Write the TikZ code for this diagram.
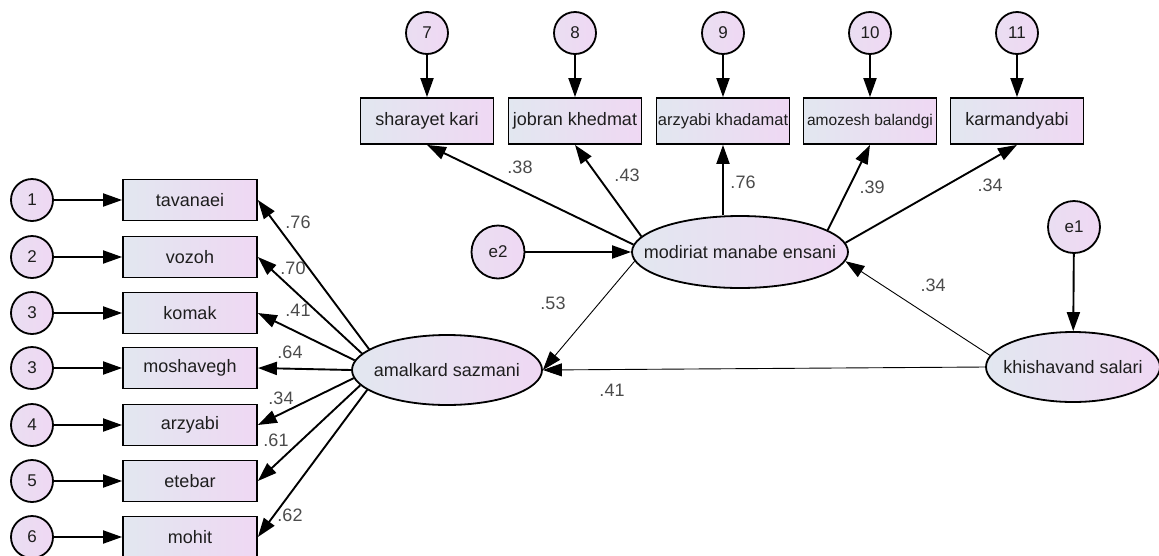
\documentclass[tikz,border=0pt]{standalone}
\usepackage{fontspec}
\setmainfont{Liberation Sans}
\usetikzlibrary{arrows.meta,shapes.geometric}

\definecolor{shadeblue}{RGB}{226,231,240}
\definecolor{shadepink}{RGB}{239,216,243}
\definecolor{inkgray}{RGB}{30,30,30}

\tikzset{
    obsbox/.style={draw,line width=1.8pt,rectangle,left color=shadeblue,right color=shadepink,
        minimum width=134pt,minimum height=41pt,inner sep=0pt,text=inkgray,font=\fontsize{18}{20}\selectfont},
    topbox/.style={obsbox,minimum width=133pt,minimum height=46pt},
    errc/.style={draw,line width=1.8pt,circle,left color=shadeblue!40!shadepink,right color=shadepink,
        minimum size=42pt,inner sep=0pt,text=inkgray,font=\fontsize{17}{20}\selectfont},
    latent/.style={draw,line width=1.8pt,ellipse,left color=shadeblue,right color=shadepink,
        inner sep=0pt,text=inkgray,font=\fontsize{18}{20}\selectfont},
    path/.style={-{Triangle[length=19pt,width=13pt]},line width=1.9pt},
    thinpath/.style={-{Triangle[length=19pt,width=13pt]},line width=0.9pt},
    coef/.style={text=inkgray!80,font=\fontsize{18}{20}\selectfont}
}

\begin{document}
\begin{tikzpicture}[x=1pt,y=-1pt]
    \useasboundingbox (0,0) rectangle (1159,555);
    % left indicators
    \node[errc] (c1) at (32,200) {1};
    \node[errc] (c2) at (32,257) {2};
    \node[errc] (c3) at (32,313) {3};
    \node[errc] (c3b) at (32,368) {3};
    \node[errc] (c4) at (32,425) {4};
    \node[errc] (c5) at (32,481) {5};
    \node[errc] (c6) at (32,537) {6};
    \node[obsbox] (tav) at (190,200) {tavanaei};
    \node[obsbox] (voz) at (190,257) {vozoh};
    \node[obsbox] (kom) at (190,313) {komak};
    \node[obsbox] (mosh) at (190,368) {moshavegh};
    \node[obsbox] (arz) at (190,425) {arzyabi};
    \node[obsbox] (ete) at (190,481) {etebar};
    \node[obsbox] (moh) at (190,537) {mohit};
    % top indicators
    \node[errc] (c7) at (427,33) {7};
    \node[errc] (c8) at (575,33) {8};
    \node[errc] (c9) at (723,33) {9};
    \node[errc] (c10) at (870,33) {10};
    \node[errc] (c11) at (1017,33) {11};
    \node[topbox] (shar) at (427,121) {sharayet kari};
    \node[topbox] (jobr) at (575,121) {jobran khedmat};
    \node[topbox,font=\fontsize{16.5}{18}\selectfont] (arzk) at (723,121) {arzyabi khadamat};
    \node[topbox,font=\fontsize{15.5}{18}\selectfont] (amoz) at (870,121) {amozesh balandgi};
    \node[topbox] (karm) at (1017,121) {karmandyabi};
    % latent variables
    \node[latent,minimum width=190pt,minimum height=70pt] (amal) at (447,370) {\makebox[0pt]{amalkard sazmani}};
    \node[latent,minimum width=216pt,minimum height=72pt] (mme) at (740,252) {\makebox[0pt]{modiriat manabe ensani}};
    \node[latent,minimum width=174pt,minimum height=70pt] (khish) at (1073,367) {\makebox[0pt]{khishavand salari}};
    \node[errc,minimum size=53pt] (e2) at (498,252) {e2};
    \node[errc,minimum size=52pt] (e1) at (1074,227) {e1};
    % error arrows
    \draw[path] (c1) -- (tav);
    \draw[path] (c2) -- (voz);
    \draw[path] (c3) -- (kom);
    \draw[path] (c3b) -- (mosh);
    \draw[path] (c4) -- (arz);
    \draw[path] (c5) -- (ete);
    \draw[path] (c6) -- (moh);
    \draw[path] (c7) -- (shar);
    \draw[path] (c8) -- (jobr);
    \draw[path] (c9) -- (arzk);
    \draw[path] (c10) -- (amoz);
    \draw[path] (c11) -- (karm);
    \draw[path] (e2) -- (mme);
    \draw[path] (e1) -- (khish);
    % loadings
    \draw[path] (amal.165) -- (tav.east);
    \draw[path] (amal.169) -- (voz.east);
    \draw[path] (amal.174) -- (kom.east);
    \draw[path] (amal.west) -- (mosh.east);
    \draw[path] (amal.185) -- (arz.east);
    \draw[path] (amal.190) -- (ete.east);
    \draw[path] (amal.194) -- (moh.east);
    \draw[path] (mme.176) -- (shar.south);
    \draw[path] (mme.171) -- (jobr.south);
    \draw[path] (arzk.south |- mme.north) -- (arzk.south);
    \draw[path] (mme.14) -- (amoz.south);
    \draw[path] (mme.5) -- (karm.south);
    % structural paths
    \draw[thinpath] (mme.185) -- (amal.east);
    \draw[thinpath] (khish.west) -- (amal.east);
    \draw[thinpath] (khish.172) -- (mme.355);
    % coefficients
    \node[coef] (k1) at (298,222) {.76};
    \node[coef] (k2) at (293,268) {.70};
    \node[coef] (k3) at (298,310) {.41};
    \node[coef] (k4) at (290,352) {.64};
    \node[coef] (k5) at (281,398) {.34};
    \node[coef] (k6) at (276,440) {.61};
    \node[coef] (k7) at (290,515) {.62};
    \node[coef] (k8) at (520,167) {.38};
    \node[coef] (k9) at (627,175) {.43};
    \node[coef] (k10) at (743,182) {.76};
    \node[coef] (k11) at (872,187) {.39};
    \node[coef] (k12) at (990,185) {.34};
    \node[coef] (k13) at (553,303) {.53};
    \node[coef] (k14) at (612,390) {.41};
    \node[coef] (k15) at (933,285) {.34};
\end{tikzpicture}
\end{document}
